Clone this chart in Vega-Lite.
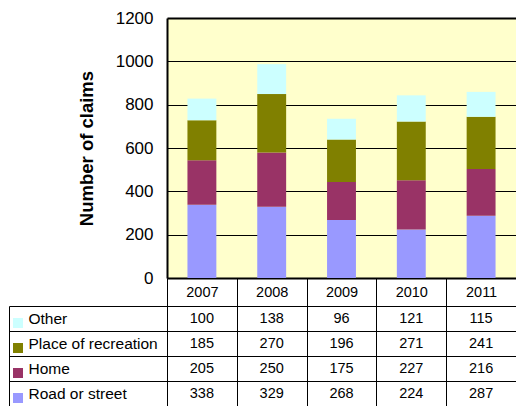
{
  "$schema": "https://vega.github.io/schema/vega-lite/v6.json",
  "padding": {"left": 8, "top": 9, "right": 0, "bottom": 0},
  "background": "white",
  "bounds": "flush",
  "spacing": 28,
  "datasets": {
    "claims": [
      {"year": "2007", "series": "Road or street", "value": 338},
      {"year": "2008", "series": "Road or street", "value": 329},
      {"year": "2009", "series": "Road or street", "value": 268},
      {"year": "2010", "series": "Road or street", "value": 224},
      {"year": "2011", "series": "Road or street", "value": 287},
      {"year": "2007", "series": "Home", "value": 205},
      {"year": "2008", "series": "Home", "value": 250},
      {"year": "2009", "series": "Home", "value": 175},
      {"year": "2010", "series": "Home", "value": 227},
      {"year": "2011", "series": "Home", "value": 216},
      {"year": "2007", "series": "Place of recreation", "value": 185},
      {"year": "2008", "series": "Place of recreation", "value": 270},
      {"year": "2009", "series": "Place of recreation", "value": 196},
      {"year": "2010", "series": "Place of recreation", "value": 271},
      {"year": "2011", "series": "Place of recreation", "value": 241},
      {"year": "2007", "series": "Other", "value": 100},
      {"year": "2008", "series": "Other", "value": 138},
      {"year": "2009", "series": "Other", "value": 96},
      {"year": "2010", "series": "Other", "value": 121},
      {"year": "2011", "series": "Other", "value": 115}
    ],
    "seriesOrder": [
      {"series": "Road or street", "stackRank": 1},
      {"series": "Home", "stackRank": 2},
      {"series": "Place of recreation", "stackRank": 3},
      {"series": "Other", "stackRank": 4}
    ]
  },
  "vconcat": [
    {
      "width": 349,
      "height": 260,
      "view": {"fill": "#FFFFCC", "stroke": null},
      "data": {"name": "claims"},
      "transform": [
        {"lookup": "series", "from": {"data": {"name": "seriesOrder"}, "key": "series", "fields": ["stackRank"]}}
      ],
      "mark": {"type": "bar"},
      "encoding": {
        "x": {
          "field": "year", "type": "nominal",
          "scale": {"paddingInner": 0.586, "paddingOuter": 0.293},
          "axis": {"labels": false, "ticks": false, "title": null, "domainColor": "black", "domainWidth": 2, "grid": false}
        },
        "y": {
          "field": "value", "type": "quantitative", "stack": "zero",
          "scale": {"domain": [0, 1200], "nice": false},
          "axis": {
            "values": [0, 200, 400, 600, 800, 1000, 1200],
            "format": "d",
            "title": "Number of claims",
            "titleFont": "Liberation Sans", "titleFontSize": 18.5, "titleFontWeight": "bold", "titleColor": "black",
            "titlePadding": 19,
            "labelFont": "Liberation Sans", "labelFontSize": 17, "labelColor": "black", "labelPadding": 14,
            "ticks": false, "tickSize": 0,
            "domainColor": "black", "domainWidth": 2,
            "grid": true, "gridColor": "black",
            "gridWidth": {"condition": {"test": "datum.value == 1200", "value": 2}, "value": 1}
          }
        },
        "order": {"field": "stackRank", "type": "quantitative", "sort": "ascending"},
        "color": {
          "field": "series", "type": "nominal",
          "scale": {
            "domain": ["Road or street", "Home", "Place of recreation", "Other"],
            "range": ["#9999FF", "#993366", "#808000", "#CCFFFF"]
          },
          "legend": {
            "orient": "none", "legendX": -154, "legendY": 300,
            "title": null,
            "values": ["Other", "Place of recreation", "Home", "Road or street"],
            "symbolType": "square", "symbolSize": 100, "symbolStrokeWidth": 0, "symbolOpacity": 1,
            "rowPadding": 15, "padding": 0, "labelExpr": "''", "labelFontSize": 1, "labelOffset": 0
          }
        }
      }
    },
    {
      "width": 349,
      "height": 100,
      "view": {"stroke": null},
      "data": {"name": "claims"},
      "layer": [
        {
          "mark": {"type": "text", "font": "Liberation Sans", "fontSize": 14.5, "color": "black", "baseline": "middle", "align": "center"},
          "encoding": {
            "x": {
              "field": "year", "type": "nominal",
              "scale": {"paddingInner": 0, "paddingOuter": 0},
              "axis": {
                "orient": "top", "title": null, "labelAngle": 0,
                "tickBand": "extent", "tickSize": 28, "tickColor": "black", "tickWidth": 1,
                "labelFont": "Liberation Sans", "labelFontSize": 14.5, "labelColor": "black",
                "labelPadding": -14, "labelBaseline": "middle",
                "domainColor": "black", "domainWidth": 1,
                "grid": true, "gridColor": "black", "gridWidth": 1, "gridOpacity": 1
              }
            },
            "y": {
              "field": "series", "type": "nominal",
              "sort": ["Other", "Place of recreation", "Home", "Road or street"],
              "scale": {"paddingInner": 0, "paddingOuter": 0},
              "axis": {
                "title": null,
                "tickBand": "extent", "tickSize": 158, "tickColor": "black", "tickWidth": 1,
                "labelFont": "Liberation Sans", "labelFontSize": 15.5, "labelColor": "black",
                "labelAlign": "left", "labelPadding": -19, "labelLimit": 200,
                "domainColor": "black", "domainWidth": 1,
                "grid": true, "gridColor": "black", "gridWidth": 1, "gridOpacity": 1
              }
            },
            "text": {"field": "value", "type": "quantitative"}
          }
        },
        {
          "mark": {"type": "text", "opacity": 0},
          "encoding": {
            "x": {"field": "year", "type": "nominal", "scale": {"paddingInner": 0, "paddingOuter": 0}},
            "y": {
              "field": "series", "type": "nominal",
              "sort": ["Other", "Place of recreation", "Home", "Road or street"],
              "scale": {"paddingInner": 0, "paddingOuter": 0},
              "axis": {"orient": "left", "offset": 158, "title": null, "labels": false, "ticks": false, "grid": false, "domainColor": "black", "domainWidth": 1}
            },
            "text": {"field": "value", "type": "quantitative"}
          }
        }
      ],
      "resolve": {"scale": {"y": "independent"}, "axis": {"y": "independent"}}
    }
  ]
}
